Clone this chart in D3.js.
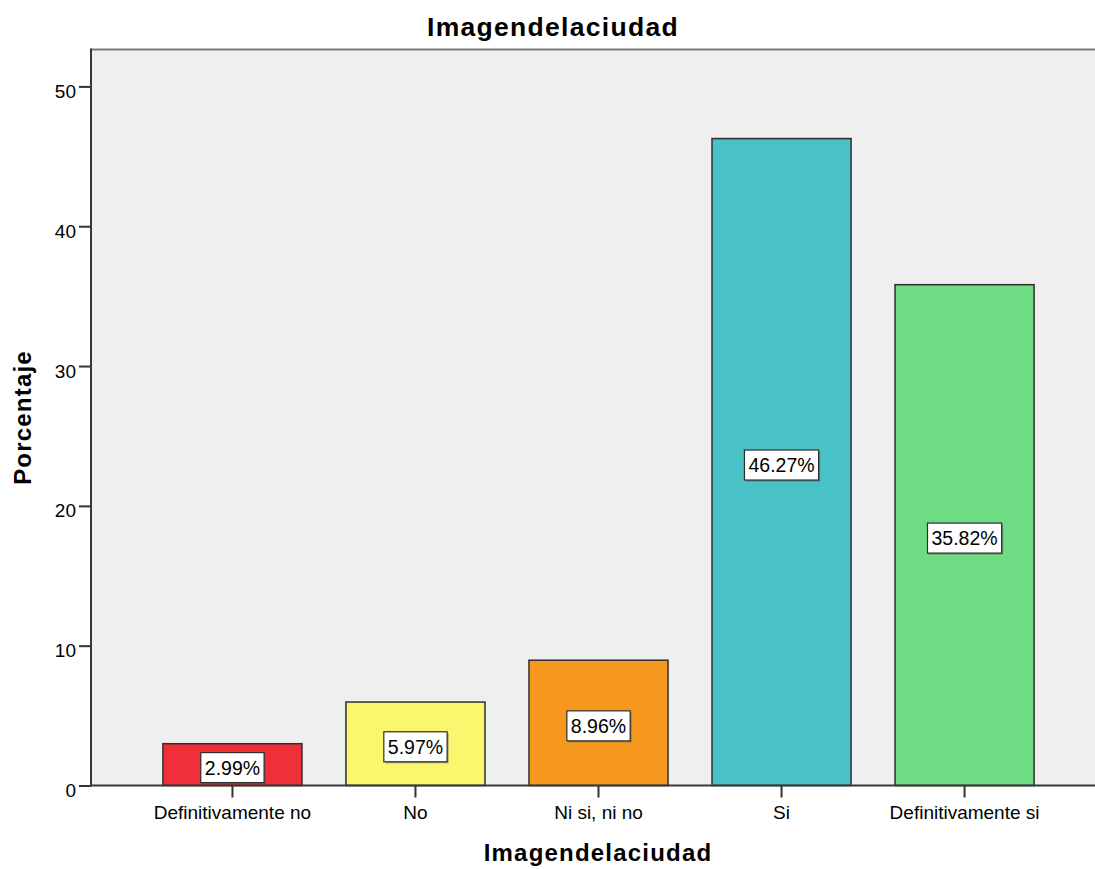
<!DOCTYPE html>
<html>
<head>
<meta charset="utf-8">
<script src="https://cdn.jsdelivr.net/npm/d3@7"></script>
<style>
  html, body { margin: 0; padding: 0; background: #ffffff; }
  svg { display: block; }
  text { font-family: "Liberation Sans", Arial, sans-serif; fill: #000; }
</style>
</head>
<body>
<svg id="chart" width="1095" height="869"></svg>
<script>
// Response categories and their percentages
const categories = ["Definitivamente no", "No", "Ni si, ni no", "Si", "Definitivamente si"];
const percentages = [2.99, 5.97, 8.96, 46.27, 35.82];
const barColors = ["#ef3039", "#f8f76d", "#f7991f", "#48c2c6", "#6fdc84"];
const yTicks = [0, 10, 20, 30, 40, 50];

const chartTitle = "Imagendelaciudad";
const xTitle = "Imagendelaciudad";
const yTitle = "Porcentaje";

const svg = d3.select("#chart");

// Plot frame
const plotLeft = 91, plotRight = 1106, plotTop = 49.5, plotBottom = 785.5;

const x = d3.scaleBand()
  .domain(categories)
  .range([plotLeft, plotRight])
  .paddingInner(0.2404)
  .paddingOuter(0.393);

const y = d3.scaleLinear()
  .domain([0, 52.64])
  .range([plotBottom, plotTop]);

// Plot background
svg.append("rect")
  .attr("x", plotLeft).attr("y", plotTop)
  .attr("width", plotRight - plotLeft).attr("height", plotBottom - plotTop)
  .attr("fill", "#efefef");

// Top frame line
svg.append("line")
  .attr("x1", plotLeft).attr("x2", plotRight)
  .attr("y1", plotTop).attr("y2", plotTop)
  .attr("stroke", "#7a7a7a").attr("stroke-width", 2);

// Bars
const data = categories.map((c, i) => ({ cat: c, val: percentages[i], color: barColors[i] }));

svg.append("g").selectAll("rect")
  .data(data)
  .join("rect")
  .attr("x", d => x(d.cat))
  .attr("y", d => y(d.val))
  .attr("width", x.bandwidth())
  .attr("height", d => y(0) - y(d.val))
  .attr("fill", d => d.color)
  .attr("stroke", "#2e2e2e")
  .attr("stroke-width", 1.5);

// Y axis
const yAxis = svg.append("g")
  .attr("transform", `translate(${plotLeft},0)`)
  .call(d3.axisLeft(y).tickValues(yTicks).tickSize(12).tickPadding(3).tickFormat(d3.format("d")));
yAxis.select(".domain").remove();
yAxis.selectAll(".tick line").attr("stroke", "#333").attr("stroke-width", 2);
yAxis.selectAll(".tick text")
  .attr("font-size", 19)
  .attr("font-family", "Liberation Sans, Arial, sans-serif")
  .attr("fill", "#111")
  .attr("dy", "0.95em")
  .attr("y", -7);

svg.append("line")
  .attr("x1", plotLeft).attr("x2", plotLeft)
  .attr("y1", plotTop - 1).attr("y2", plotBottom + 1)
  .attr("stroke", "#383838").attr("stroke-width", 2);

// X axis
const xAxis = svg.append("g")
  .attr("transform", `translate(0,${plotBottom})`)
  .call(d3.axisBottom(x).tickSize(12).tickPadding(0));
xAxis.select(".domain").remove();
xAxis.selectAll(".tick line").attr("stroke", "#333").attr("stroke-width", 2);
xAxis.selectAll(".tick text")
  .attr("font-size", 19)
  .attr("font-family", "Liberation Sans, Arial, sans-serif")
  .attr("fill", "#111")
  .attr("dy", 0)
  .attr("y", 33.5);

svg.append("line")
  .attr("x1", plotLeft - 1).attr("x2", plotRight)
  .attr("y1", plotBottom).attr("y2", plotBottom)
  .attr("stroke", "#383838").attr("stroke-width", 2);

// Value labels in boxes at the middle of each bar
const labels = svg.append("g").selectAll("g")
  .data(data)
  .join("g")
  .attr("transform", d => `translate(${x(d.cat) + x.bandwidth() / 2},${y(d.val / 2) + 3})`);

labels.each(function(d) {
  const g = d3.select(this);
  const t = g.append("text")
    .attr("text-anchor", "middle")
    .attr("font-size", 19.5)
    .attr("dy", "0.36em")
    .text(d3.format(".2f")(d.val) + "%");
  const w = t.node().getComputedTextLength() + 8;
  const h = 30;
  g.insert("rect", "text")
    .attr("x", -w / 2 + 1.5).attr("y", -h / 2 + 1.5)
    .attr("width", w).attr("height", h)
    .attr("fill", "#555").attr("opacity", 0.55);
  g.insert("rect", "text")
    .attr("x", -w / 2).attr("y", -h / 2)
    .attr("width", w).attr("height", h)
    .attr("fill", "#fff")
    .attr("stroke", "#2e2e2e").attr("stroke-width", 1.2);
});

// Titles
svg.append("text")
  .attr("x", 553).attr("y", 36)
  .attr("text-anchor", "middle")
  .attr("font-size", 26.5)
  .attr("font-weight", "bold")
  .attr("letter-spacing", 1.3)
  .text(chartTitle);

svg.append("text")
  .attr("x", 598).attr("y", 861)
  .attr("text-anchor", "middle")
  .attr("font-size", 24)
  .attr("font-weight", "bold")
  .attr("letter-spacing", 1.2)
  .text(xTitle);

svg.append("text")
  .attr("transform", "translate(31,417.5) rotate(-90)")
  .attr("text-anchor", "middle")
  .attr("font-size", 24)
  .attr("font-weight", "bold")
  .attr("letter-spacing", 1.2)
  .text(yTitle);
</script>
</body>
</html>
